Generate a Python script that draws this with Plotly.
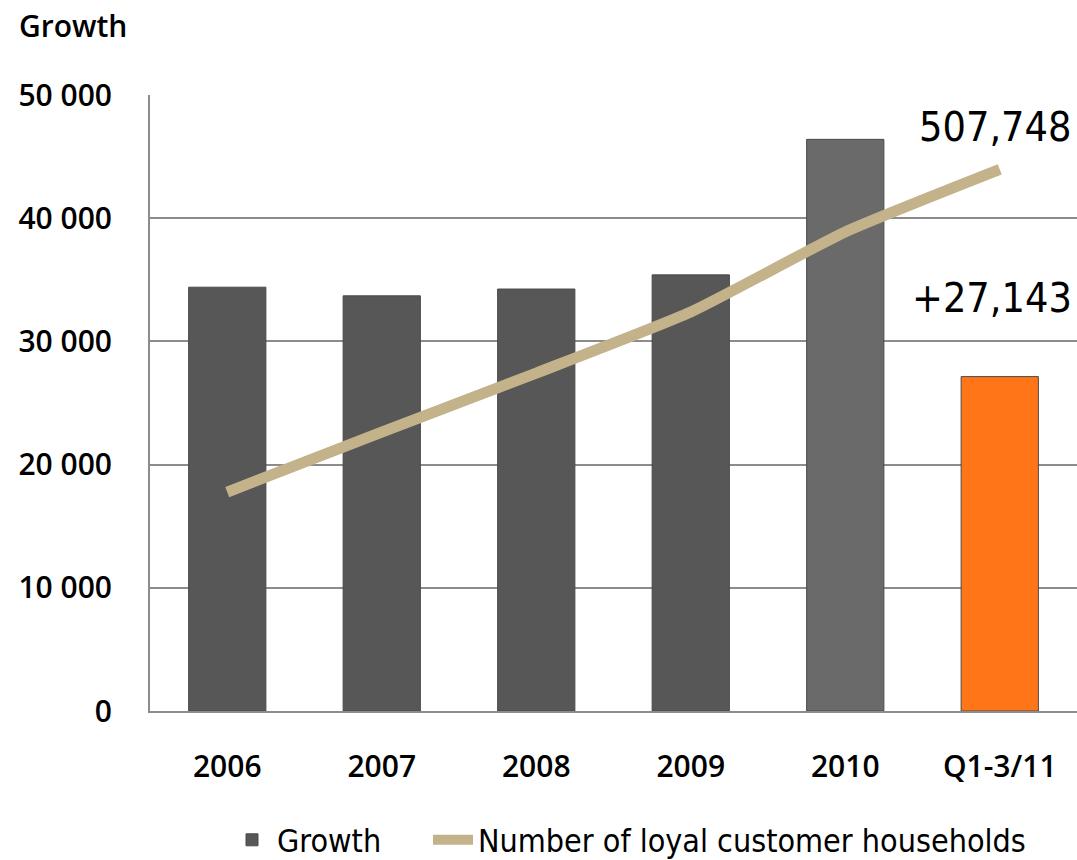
import plotly.graph_objects as go

# Yearly growth in loyal customer households (bars) and running total (line)
categories = ["2006", "2007", "2008", "2009", "2010", "Q1-3/11"]
growth = [34400, 33700, 34250, 35400, 46400, 27143]
households = [324400, 358500, 392000, 426700, 472200, 507748]
bar_colors = ["#575757", "#575757", "#575757", "#575757", "#6a6a6a", "#FF7518"]

y_ticks = [0, 10000, 20000, 30000, 40000, 50000]
y_tick_text = ["0", "10 000", "20 000", "30 000", "40 000", "50 000"]

label_font = "Open Sans"
narrow_font = "DejaVu Sans Condensed, Liberation Sans Narrow, sans-serif"

fig = go.Figure()

fig.add_trace(go.Bar(
    x=categories,
    y=growth,
    name="Growth",
    marker=dict(color=bar_colors, line=dict(color="#4a4a4a", width=1)),
    width=0.5,
    yaxis="y",
    legend="legend",
))

fig.add_trace(go.Scatter(
    x=categories,
    y=households,
    name="Number of loyal customer households",
    mode="lines",
    line=dict(color="#C3B28A", width=11, shape="spline", smoothing=0.5),
    yaxis="y2",
    legend="legend2",
))

tick_font = dict(family=label_font, size=30, color="black", weight=600)
legend_common = dict(
    orientation="h",
    xref="container",
    yref="container",
    xanchor="left",
    y=20 / 860,
    yanchor="middle",
    font=dict(family=narrow_font, size=32, color="black"),
    itemwidth=40,
    bgcolor="rgba(0,0,0,0)",
)

fig.update_layout(
    width=1077,
    height=860,
    margin=dict(l=150, r=0, t=95, b=149),
    plot_bgcolor="white",
    paper_bgcolor="white",
    font=dict(family=label_font, size=24, color="black"),
    showlegend=True,
    legend=dict(x=227 / 1077, **legend_common),
    legend2=dict(x=428 / 1077, **legend_common),
    xaxis=dict(
        type="category",
        showgrid=False,
        showline=True,
        linecolor="#8c8c8c",
        linewidth=2,
        ticks="",
        ticklabelstandoff=28,
        tickfont=tick_font,
        range=[-0.5, 5.5],
        fixedrange=True,
    ),
    yaxis=dict(
        range=[0, 50000],
        tickvals=y_ticks,
        ticktext=y_tick_text,
        showgrid=True,
        gridcolor="#8c8c8c",
        gridwidth=1.5,
        showline=True,
        linecolor="#8c8c8c",
        linewidth=2,
        zeroline=False,
        ticks="",
        ticklabelstandoff=30,
        tickfont=tick_font,
    ),
    yaxis2=dict(
        range=[200000, 550000],
        overlaying="y",
        side="right",
        visible=False,
    ),
    bargap=0.5,
)

fig.add_annotation(
    text="Growth",
    xref="paper", yref="paper",
    x=-133 / 927, y=1 + 70 / 616,
    xanchor="left", yanchor="middle",
    showarrow=False,
    font=dict(family=label_font, size=30, color="black", weight=600),
)

fig.add_annotation(
    text="507,748",
    xref="paper", yref="y",
    x=(1074 - 150) / 927, y=47400,
    xanchor="right", yanchor="middle",
    showarrow=False,
    font=dict(family=narrow_font, size=41, color="black"),
)

fig.add_annotation(
    text="+27,143",
    xref="paper", yref="y",
    x=(1074 - 150) / 927, y=33500,
    xanchor="right", yanchor="middle",
    showarrow=False,
    font=dict(family=narrow_font, size=41, color="black"),
)

fig.write_html("out.html")
